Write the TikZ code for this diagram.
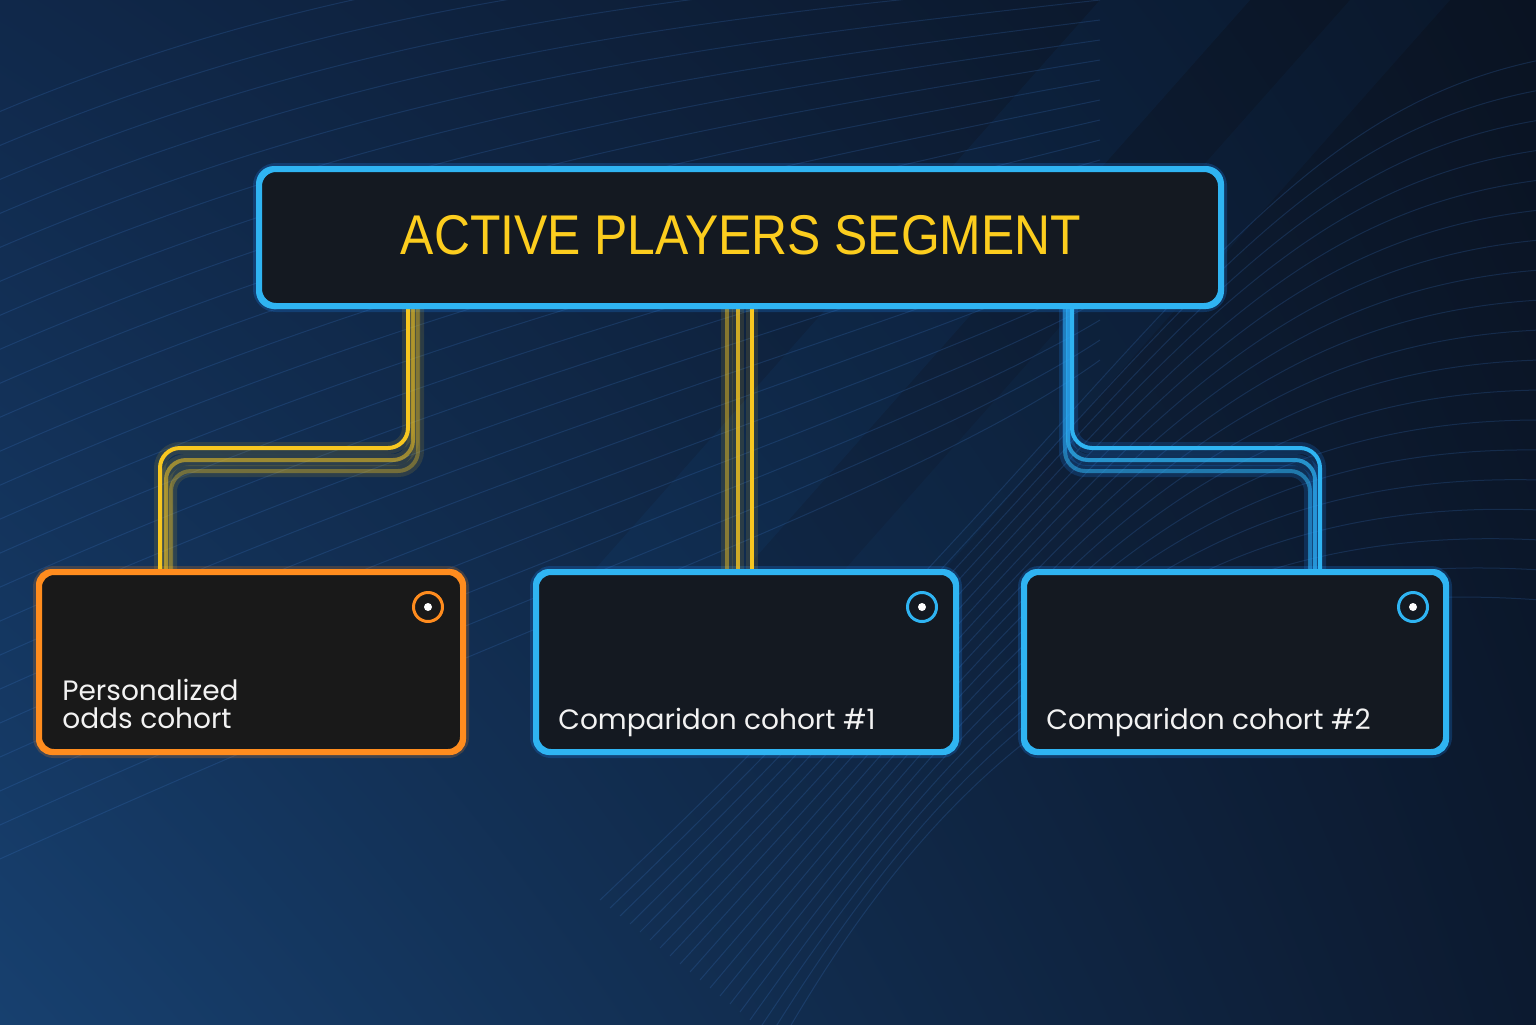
\documentclass[tikz,border=0pt]{standalone}
\usepackage{fontspec}
\setmainfont{Poppins}
\newfontfamily\titlefont{Liberation Sans}
\usetikzlibrary{calc,shadings}
\definecolor{bgA}{HTML}{10284A}
\definecolor{bgB}{HTML}{0A1322}
\definecolor{bgC}{HTML}{17406F}
\definecolor{bgD}{HTML}{0C1A30}
\definecolor{cyanb}{HTML}{2FB4F2}
\definecolor{glowb}{HTML}{1E8CFF}
\definecolor{ylw}{HTML}{F8C720}
\definecolor{ttl}{HTML}{FCCD1E}
\definecolor{orng}{HTML}{FF8C1E}
\definecolor{boxfill}{HTML}{141921}
\definecolor{boxfillo}{HTML}{191919}
\definecolor{txtw}{HTML}{F2F2F2}
\definecolor{curve}{HTML}{3C78C8}
\begin{document}
\begin{tikzpicture}[x=0.5pt,y=-0.5pt,
  mainbox/.style={draw=cyanb, line width=2pt, fill=boxfill, rounded corners=8pt,
    minimum width=480pt, minimum height=67.5pt, inner sep=0pt,
    preaction={draw=glowb, line width=7pt, draw opacity=0.22, fill=none}},
  bluebox/.style={draw=cyanb, line width=2pt, fill=boxfill, rounded corners=7pt,
    minimum height=89pt, inner sep=0pt,
    preaction={draw=glowb, line width=7pt, draw opacity=0.22, fill=none}},
  orangebox/.style={draw=orng, line width=2pt, fill=boxfillo, rounded corners=7pt,
    minimum height=89pt, inner sep=0pt,
    preaction={draw=orng, line width=7pt, draw opacity=0.2, fill=none}},
  ring/.style={circle, draw=#1, line width=1.5pt, minimum size=14.5pt, inner sep=0pt},
  dotw/.style={circle, fill=white, minimum size=4pt, inner sep=0pt},
  label/.style={text=txtw, font=\fontsize{14}{14}\selectfont, align=left, inner sep=0pt},
  ylink/.style={draw=ylw, line width=2pt, rounded corners=10pt,
    preaction={draw=ylw, line width=6pt, draw opacity=0.12}},
  blink/.style={draw=cyanb, line width=2pt, rounded corners=10pt,
    preaction={draw=glowb, line width=6pt, draw opacity=0.18}},
  bgline/.style={draw=curve, line width=0.5pt, draw opacity=0.22}
]
\useasboundingbox (0,0) rectangle (1536,1024);
\shade[upper left=bgA, upper right=bgB, lower left=bgC, lower right=bgD] (0,0) rectangle (1536,1024);
% diagonal light bands
\fill[glowb, opacity=0.05] (1100,0) -- (1250,0) -- (700,620) -- (550,620) -- cycle;
\fill[glowb, opacity=0.04] (1350,0) -- (1450,0) -- (900,620) -- (800,620) -- cycle;
% background contour lines
\begin{scope}
\clip (0,0) rectangle (1536,1024);
\foreach \i in {0,...,22} {
  \draw[bgline] (-20,{120+\i*34}) .. controls ({350+\i*8},{-40+\i*30}) and ({700+\i*10},{-60+\i*25}) .. (1100,{-80+\i*20});
}
\foreach \i in {0,...,18} {
  \draw[bgline] (1540,{60+\i*30}) .. controls ({1250-\i*6},{120+\i*25}) and ({1150-\i*12},{380+\i*22}) .. ({600+\i*10},{900+\i*8});
}
\end{scope}

% nodes
\node[mainbox] (main) at (740,237.5) {};
\node[text=ttl, font=\titlefont\fontsize{28}{30}\selectfont, inner sep=0pt] (title) at (741,235) {\scalebox{0.89}[1]{ACTIVE PLAYERS SEGMENT}};

\node[orangebox, minimum width=211pt] (c1) at (251,662) {};
\node[bluebox, minimum width=209pt] (c2) at (746,662) {};
\node[bluebox, minimum width=210pt] (c3) at (1235,662) {};

% connectors: left (yellow)
\draw[ylink, draw opacity=0.35] (418,0 |- main.south) -- (418,471) -- (171,471) -- (171,0 |- c1.north);
\draw[ylink, draw opacity=0.55] (413,0 |- main.south) -- (413,460) -- (166,460) -- (166,0 |- c1.north);
\draw[ylink] (408,0 |- main.south) -- (408,448) -- (160,448) -- (160,0 |- c1.north);
% middle (yellow)
\draw[ylink, draw opacity=0.45] (727,0 |- main.south) -- (727,0 |- c2.north);
\draw[ylink, draw opacity=0.8] (738,0 |- main.south) -- (738,0 |- c2.north);
\draw[ylink] (752,0 |- main.south) -- (752,0 |- c2.north);
% right (blue)
\draw[blink, draw opacity=0.55] (1065,0 |- main.south) -- (1065,471) -- (1310,471) -- (1310,0 |- c3.north);
\draw[blink, draw opacity=0.75] (1068,0 |- main.south) -- (1068,460) -- (1315,460) -- (1315,0 |- c3.north);
\draw[blink] (1072,0 |- main.south) -- (1072,448) -- (1320,448) -- (1320,0 |- c3.north);

% redraw box borders over connector ends
\draw[cyanb, line width=2pt, rounded corners=8pt] (main.south west) rectangle (main.north east);
\draw[orng, line width=2pt, rounded corners=7pt] (c1.south west) rectangle (c1.north east);
\draw[cyanb, line width=2pt, rounded corners=7pt] (c2.south west) rectangle (c2.north east);
\draw[cyanb, line width=2pt, rounded corners=7pt] (c3.south west) rectangle (c3.north east);

% icons
\node[ring=orng] (i1) at ($(c1.north east)+(-36,36)$) {};
\node[dotw] (d1) at (i1.center) {};
\node[ring=cyanb] (i2) at ($(c2.north east)+(-35,36)$) {};
\node[dotw] (d2) at (i2.center) {};
\node[ring=cyanb] (i3) at ($(c3.north east)+(-34,36)$) {};
\node[dotw] (d3) at (i3.center) {};

% labels
\node[label, anchor=base west] (t1) at ($(c1.south west)+(24,-25)$) {Personalized\\odds cohort};
\node[label, anchor=base west] (t2) at ($(c2.south west)+(23,-24)$) {Comparidon cohort \#1};
\node[label, anchor=base west] (t3) at ($(c3.south west)+(23,-24)$) {Comparidon cohort \#2};
\end{tikzpicture}
\end{document}
